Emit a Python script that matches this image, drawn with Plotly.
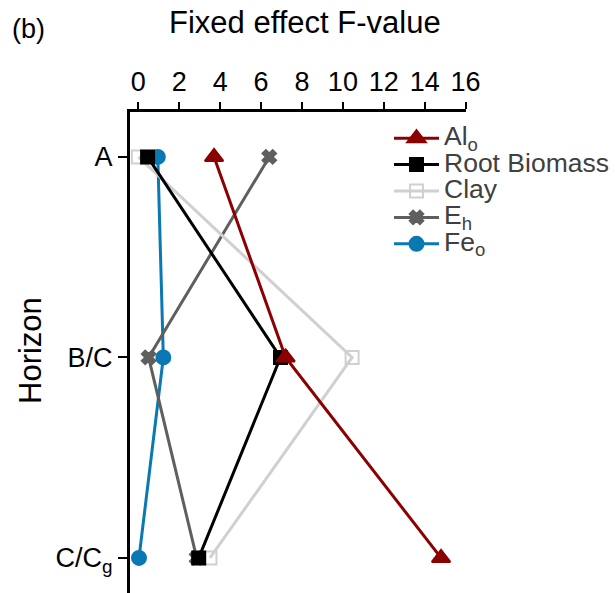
import plotly.graph_objects as go

horizons = ["A", "B/C", "C/C<sub>g</sub>"]
horizon_pos = [0, 1, 2]

al_o = [3.7, 7.2, 14.8]
root_biomass = [0.45, 6.95, 2.95]
clay = [0.0, 10.45, 3.5]
e_h = [6.4, 0.5, 2.85]
fe_o = [0.95, 1.22, 0.03]

x_ticks = [0, 2, 4, 6, 8, 10, 12, 14, 16]

FONT = "Liberation Sans, Arial, sans-serif"
LEG = '<span style="font-size:26.5px">{}</span>'

fig = go.Figure()

series = [
    ("Fe<sub>o</sub>", fe_o, "#0a78b2", "circle", 14),
    ("E<sub>h</sub>", e_h, "#5f5f5f", "x", 12),
    ("Clay", clay, "#d0d0d0", "square-open", 13),
    ("Root Biomass", root_biomass, "#000000", "square", 13),
    ("Al<sub>o</sub>", al_o, "#8b0000", "triangle-up", 16),
]

for name, vals, col, sym, size in series:
    fig.add_trace(go.Scatter(
        x=vals, y=horizon_pos, mode="lines+markers", name=LEG.format(name),
        line=dict(color=col, width=3),
        marker=dict(symbol=sym, size=size, color=col,
                    line=dict(color=col, width=2)),
    ))

W, H = 615, 593
L, R, T, B = 130, 149, 112, 0
pw, ph = W - L - R, H - T - B

fig.update_layout(
    width=W, height=H,
    margin=dict(l=L, r=R, t=T, b=B),
    plot_bgcolor="white", paper_bgcolor="white",
    font=dict(family=FONT, size=27, color="black"),
    showlegend=True,
    legend=dict(
        x=(389 - L) / pw, y=1 - (120 - T) / ph, xanchor="left", yanchor="top",
        traceorder="reversed", bgcolor="rgba(0,0,0,0)",
        font=dict(family=FONT, size=18, color="#404040"),
        tracegroupgap=0, itemwidth=45,
    ),
    xaxis=dict(
        side="top", range=[-0.41, 16.02], tickvals=x_ticks,
        showgrid=False, zeroline=False,
        showline=True, linecolor="black", linewidth=3,
        ticks="outside", ticklen=7, tickwidth=2, tickcolor="black",
        tickfont=dict(family=FONT, size=27, color="black"),
    ),
    yaxis=dict(
        range=[2.175, -0.224], tickvals=horizon_pos, ticktext=horizons,
        showgrid=False, zeroline=False,
        showline=True, linecolor="black", linewidth=3,
        ticks="outside", ticklen=9, tickwidth=2, tickcolor="black",
        tickfont=dict(family=FONT, size=27, color="black"),
    ),
)

def ann(text, px, py, size, angle=0):
    return dict(text=text, x=(px - L) / pw, y=1 - (py - T) / ph,
                xref="paper", yref="paper", xanchor="center", yanchor="middle",
                textangle=angle, showarrow=False,
                font=dict(family=FONT, size=size, color="black"))

fig.update_layout(annotations=[
    ann("Fixed effect F-value", 305, 22, 31),
    ann("Horizon", 30, 351, 31, -90),
    ann("(b)", 28, 29, 27),
])

fig.write_html("out.html")
